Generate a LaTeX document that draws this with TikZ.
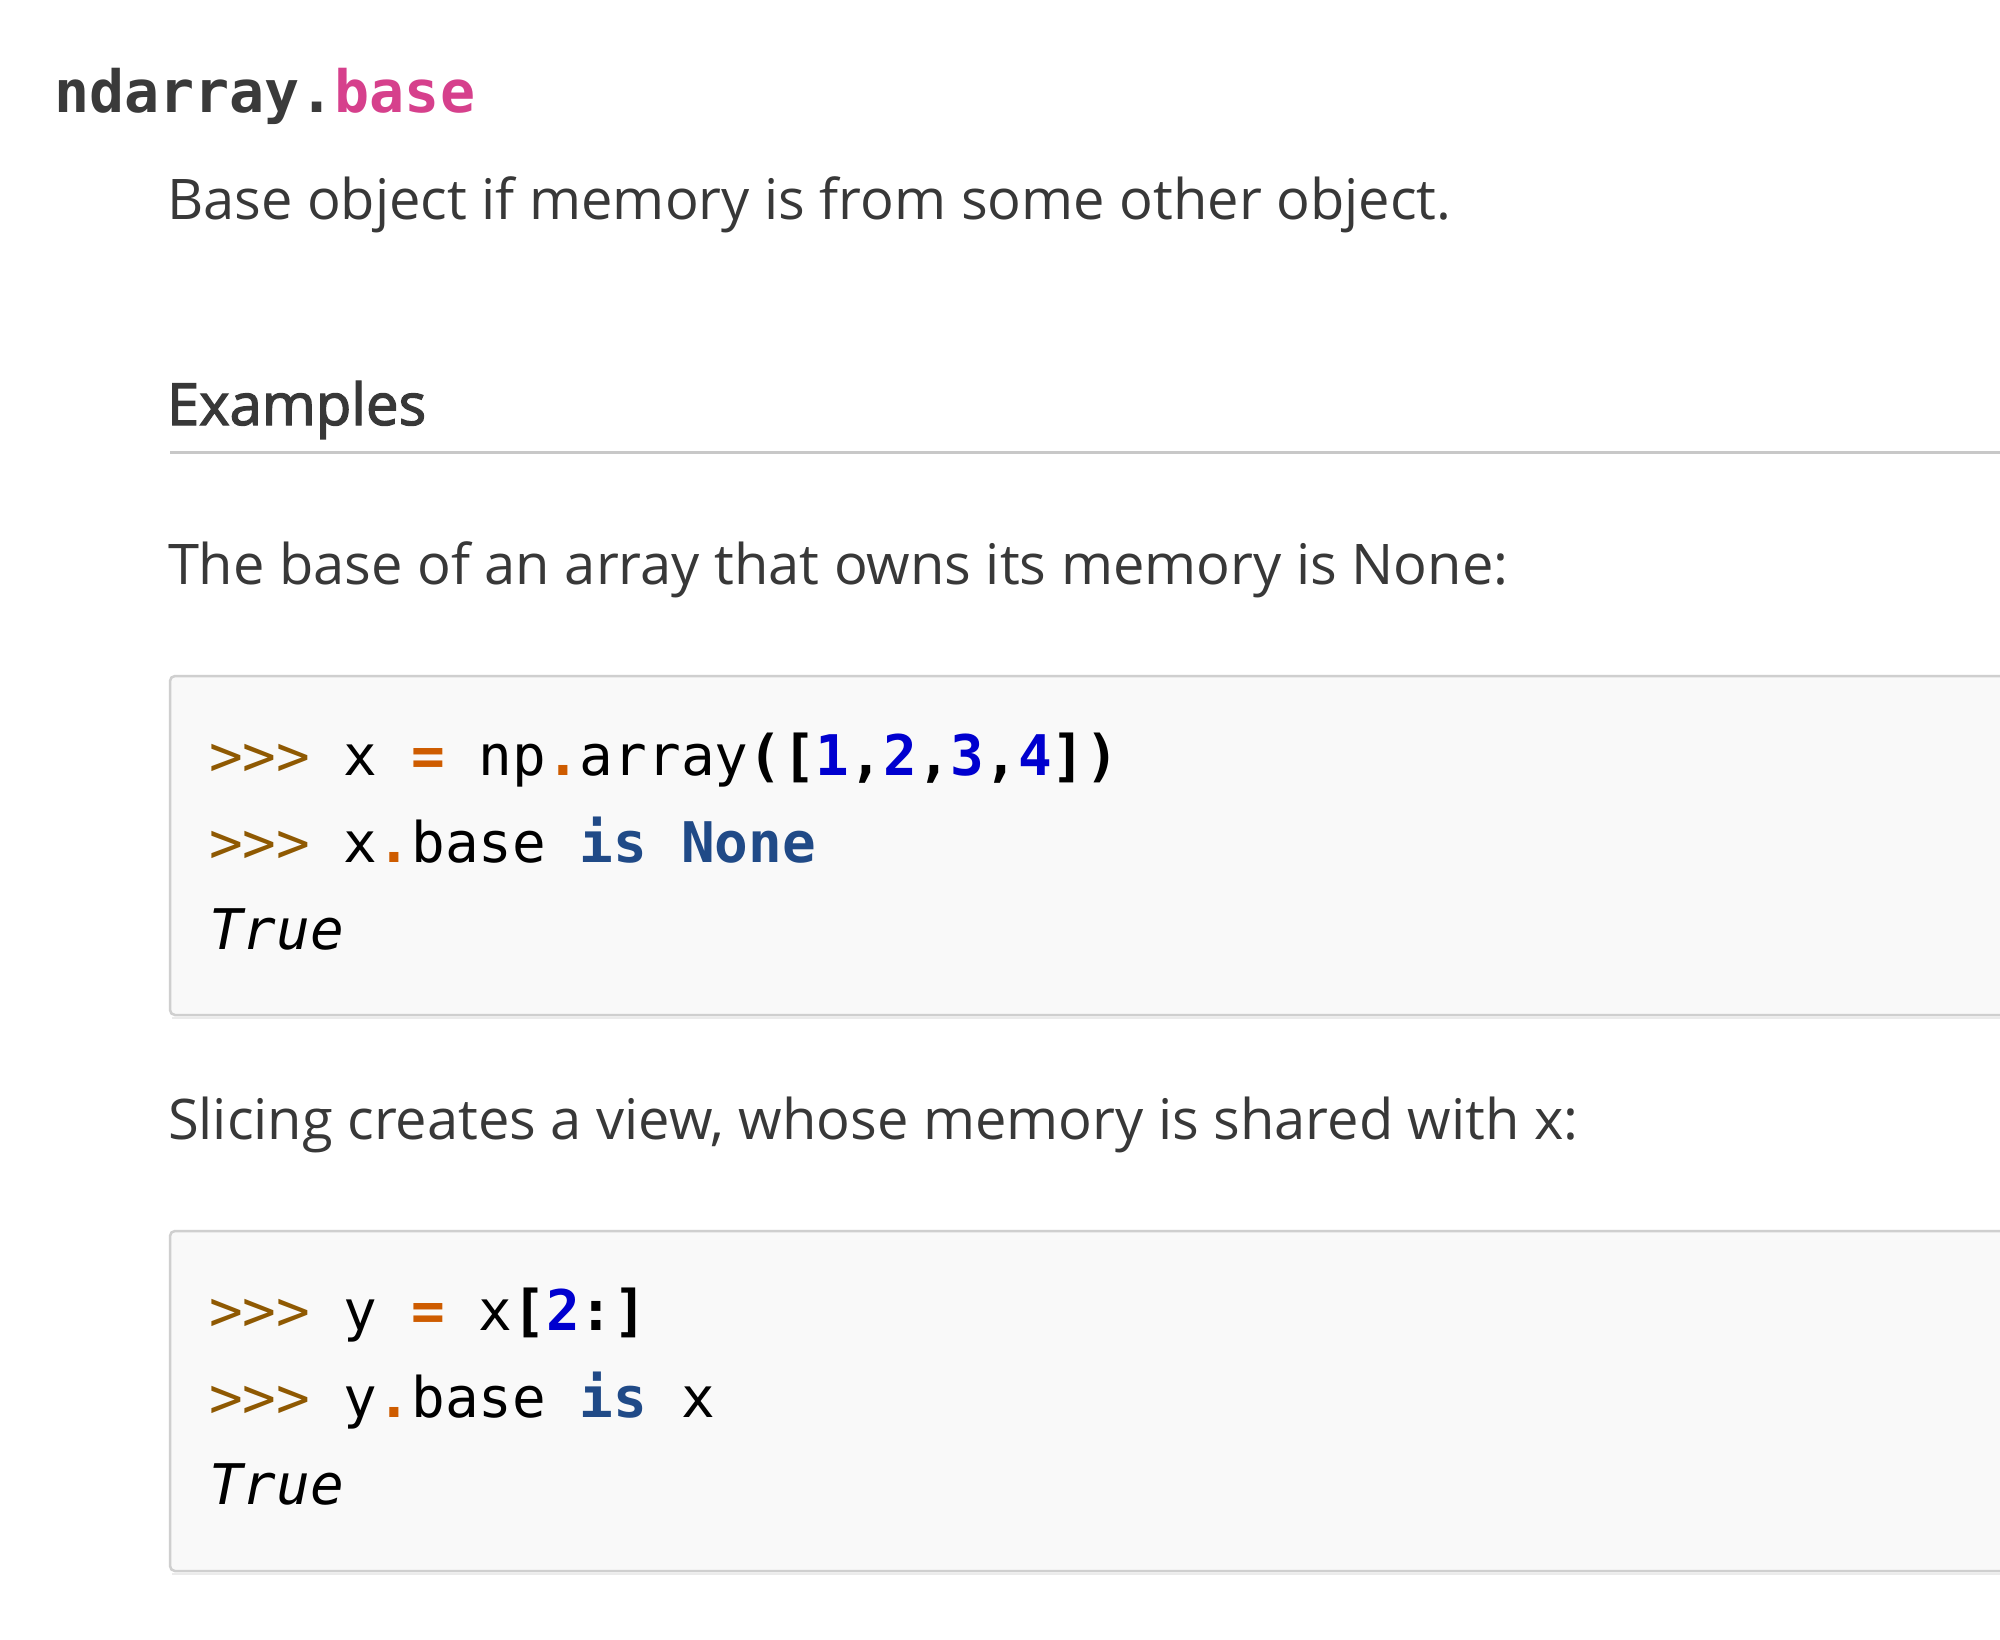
\documentclass[tikz,border=0pt]{standalone}
\usepackage{fontspec}
\setmainfont{Open Sans}
\setmonofont{DejaVu Sans Mono}
\newfontfamily\semib[FakeBold=2.2]{Open Sans}
\definecolor{bodytxt}{HTML}{383838}
\definecolor{titlegray}{HTML}{3A3A3A}
\definecolor{titlepink}{HTML}{D6408C}
\definecolor{rulegray}{HTML}{C8C8C8}
\definecolor{boxbg}{HTML}{F9F9F9}
\definecolor{boxborder}{HTML}{CFCFCF}
\definecolor{prompt}{HTML}{8F5902}
\definecolor{oper}{HTML}{CE5C00}
\definecolor{numb}{HTML}{0000CF}
\definecolor{kw}{HTML}{204A87}
\newcommand\cpr{\textcolor{prompt}{>{}>{}>}}
\newcommand\cop[1]{\textcolor{oper}{\bfseries #1}}
\newcommand\cnum[1]{\textcolor{numb}{\bfseries #1}}
\newcommand\ckw[1]{\textcolor{kw}{\bfseries #1}}
\newcommand\cpu[1]{{\bfseries #1}}
\tikzset{
  txt/.style={anchor=base west, inner sep=0pt, outer sep=0pt},
  body/.style={txt, text=bodytxt, font=\fontsize{56}{64}\selectfont},
  code/.style={txt, text=black, font=\fontsize{56}{60}\selectfont\ttfamily},
  codebox/.style={draw=boxborder, line width=2.5pt, fill=boxbg, rounded corners=5pt},
  shadowline/.style={line width=2pt, draw=black!8}
}
\begin{document}
\begin{tikzpicture}[x=1pt,y=-1pt]
\useasboundingbox (0,0) rectangle (2000,1639);
\fill[white] (0,0) rectangle (2000,1639);
% title
\node[txt, font=\fontsize{58.3}{62}\selectfont\ttfamily\bfseries] (title) at (54,112)
  {\textcolor{titlegray}{ndarray.}\textcolor{titlepink}{base}};
\node[body] (desc) at (167,219) {Base object if memory is from some other object.};
% Examples heading
\node[txt, text=bodytxt, font=\fontsize{58}{64}\selectfont\semib] (examples) at (167,425) {Examples};
\draw[rulegray, line width=3pt] (170,452) -- (2000,452);
\node[body] (p1) at (168,584) {The base of an array that owns its memory is None:};
% code box 1
\draw[shadowline] (172,1018) -- (2000,1018);
\draw[codebox] (170,676) rectangle (2010,1015);
\node[code] (c11) at (209,775) {\cpr\ x \cop{=} np\cop{.}array\cpu{([}\cnum{1}\cpu{,}\cnum{2}\cpu{,}\cnum{3}\cpu{,}\cnum{4}\cpu{])}};
\node[code] (c12) at (209,862) {\cpr\ x\cop{.}base \ckw{is} \ckw{None}};
\node[code] (c13) at (209,949) {\itshape True};
\node[body] (p2) at (168,1139) {Slicing creates a view, whose memory is shared with x:};
% code box 2
\draw[shadowline] (172,1574) -- (2000,1574);
\draw[codebox] (170,1231) rectangle (2010,1571);
\node[code] (c21) at (209,1330) {\cpr\ y \cop{=} x\cpu{[}\cnum{2}\cpu{:]}};
\node[code] (c22) at (209,1417) {\cpr\ y\cop{.}base \ckw{is} x};
\node[code] (c23) at (209,1504) {\itshape True};
\end{tikzpicture}
\end{document}
